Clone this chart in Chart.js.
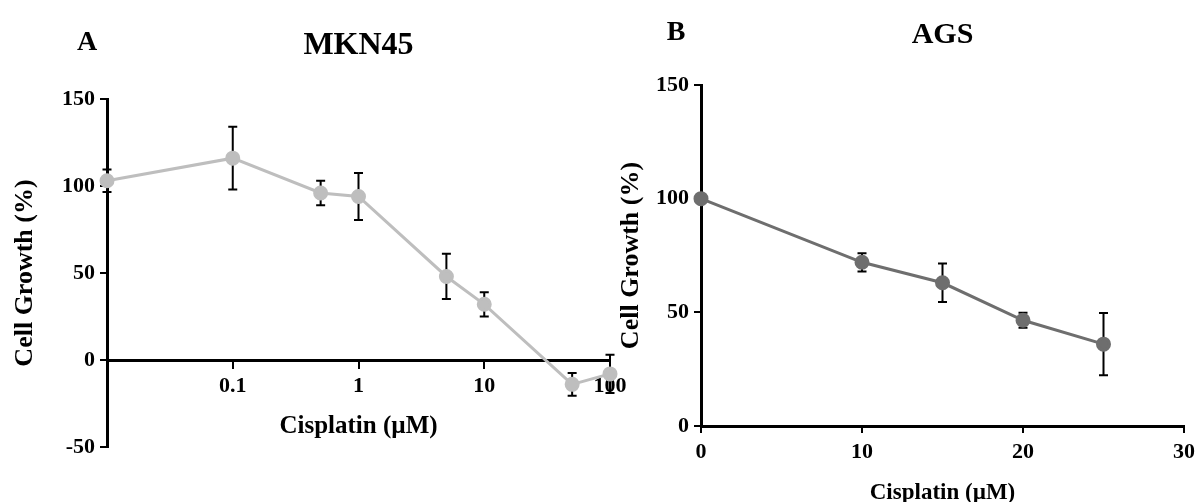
<!DOCTYPE html>
<html>
<head>
<meta charset="utf-8">
<script src="https://cdn.jsdelivr.net/npm/chart.js@4/dist/chart.umd.min.js"></script>
<style>
  html, body { margin: 0; padding: 0; background: #fff; overflow: hidden; }
  #chartA { position: absolute; left: 0; top: 0; }
  #chartB { position: absolute; left: 600px; top: 0; }
</style>
</head>
<body>
<canvas id="chartA" width="640" height="502"></canvas>
<canvas id="chartB" width="601" height="502"></canvas>
<script>
// MKN45 (log dose axis)
const mknDose = [0.01, 0.1, 0.5, 1, 5, 10, 50, 100];
const mknGrowth = [103, 116, 96, 94, 48, 32, -14, -8];
const mknError = [6.5, 18, 7, 13.5, 13, 7, 6.5, 11];
const mknTicks = [0.1, 1, 10, 100];

// AGS (linear dose axis)
const agsDose = [0, 10, 15, 20, 25];
const agsGrowth = [100, 72, 63, 46.5, 36];
const agsError = [0, 4, 8.5, 3.3, 13.7];

const SERIF = "'Liberation Serif', 'Times New Roman', serif";

// error bars drawn under the points, through the chart scales
const errorBars = {
    id: 'errorBars',
    beforeDatasetsDraw(chart, args, opts) {
        const { ctx, scales: { x, y } } = chart;
        const pts = chart.data.datasets[0].data;
        ctx.save();
        ctx.strokeStyle = '#000';
        ctx.lineWidth = 2;
        pts.forEach((p, i) => {
            const e = opts.errors[i];
            if (!e) return;
            const px = x.getPixelForValue(p.x);
            const top = y.getPixelForValue(p.y + e);
            const bot = y.getPixelForValue(p.y - e);
            ctx.beginPath();
            ctx.moveTo(px, top); ctx.lineTo(px, bot);
            ctx.moveTo(px - 4.5, top); ctx.lineTo(px + 4.5, top);
            ctx.moveTo(px - 4.5, bot); ctx.lineTo(px + 4.5, bot);
            ctx.stroke();
        });
        ctx.restore();
    }
};

// panel letter (A / B)
const panelLetter = {
    id: 'panelLetter',
    afterDraw(chart, args, opts) {
        const ctx = chart.ctx;
        ctx.save();
        ctx.font = `bold ${opts.size}px ${SERIF}`;
        ctx.fillStyle = '#000';
        ctx.textAlign = 'center';
        ctx.textBaseline = 'middle';
        ctx.fillText(opts.text, opts.x, opts.y);
        ctx.restore();
    }
};

function tickFont(size) {
    return { family: SERIF, size: size, weight: 'bold' };
}

const axisGrid = { drawOnChartArea: false, drawTicks: true, tickLength: 7, color: '#000', lineWidth: 2 };
const axisBorder = { display: true, color: '#000', width: 3 };

new Chart(document.getElementById('chartA'), {
    type: 'line',
    data: {
        datasets: [{
            data: mknDose.map((d, i) => ({ x: d, y: mknGrowth[i] })),
            borderColor: '#bebebe',
            backgroundColor: '#bebebe',
            borderWidth: 3,
            pointRadius: 6,
            pointHoverRadius: 6,
            tension: 0,
            clip: false
        }]
    },
    options: {
        responsive: false,
        animation: false,
        events: [],
        layout: { padding: { top: 0, left: 0, right: 30, bottom: 55 } },
        plugins: {
            legend: { display: false },
            tooltip: { enabled: false },
            title: {
                display: true,
                text: 'MKN45',
                fullSize: false,
                color: '#000',
                font: { family: SERIF, size: 32, weight: 'bold' },
                padding: { top: 26.8, bottom: 33.8 }
            },
            errorBars: { errors: mknError },
            panelLetter: { text: 'A', x: 87, y: 43, size: 28 }
        },
        scales: {
            x: {
                type: 'logarithmic',
                min: 0.01,
                max: 100,
                position: { y: 0 },
                afterBuildTicks: (s) => { s.ticks = mknTicks.map(v => ({ value: v })); },
                afterFit: (s) => { s.height = 55; },
                grid: axisGrid,
                border: axisBorder,
                ticks: {
                    color: '#000',
                    font: tickFont(22),
                    padding: 6,
                    maxRotation: 0,
                    autoSkip: false,
                    callback: (v) => String(v)
                },
                title: {
                    display: true,
                    text: 'Cisplatin (µM)',
                    color: '#000',
                    font: { family: SERIF, size: 25, weight: 'bold' },
                    padding: { top: 0, bottom: -27 }
                }
            },
            y: {
                min: -50,
                max: 150,
                afterFit: (s) => { s.width = 107; },
                grid: axisGrid,
                border: axisBorder,
                ticks: { stepSize: 50, color: '#000', font: tickFont(22), padding: 5 },
                title: {
                    display: true,
                    text: 'Cell Growth (%)',
                    color: '#000',
                    font: { family: SERIF, size: 26, weight: 'bold' },
                    padding: { top: 9.4, bottom: 0 }
                }
            }
        }
    },
    plugins: [errorBars, panelLetter]
});

new Chart(document.getElementById('chartB'), {
    type: 'line',
    data: {
        datasets: [{
            data: agsDose.map((d, i) => ({ x: d, y: agsGrowth[i] })),
            borderColor: '#6e6e6e',
            backgroundColor: '#6e6e6e',
            borderWidth: 3,
            pointRadius: 6,
            pointHoverRadius: 6,
            tension: 0,
            clip: false
        }]
    },
    options: {
        responsive: false,
        animation: false,
        events: [],
        layout: { padding: { top: 0, left: 0, right: 13, bottom: 0 } },
        plugins: {
            legend: { display: false },
            tooltip: { enabled: false },
            title: {
                display: true,
                text: 'AGS',
                fullSize: false,
                color: '#000',
                font: { family: SERIF, size: 30, weight: 'bold' },
                padding: { top: 17, bottom: 32 }
            },
            errorBars: { errors: agsError },
            panelLetter: { text: 'B', x: 76, y: 33, size: 28 }
        },
        scales: {
            x: {
                type: 'linear',
                min: 0,
                max: 30,
                afterFit: (s) => { s.height = 76; },
                grid: axisGrid,
                border: axisBorder,
                ticks: { stepSize: 10, color: '#000', font: tickFont(22), padding: 6, maxRotation: 0 },
                title: {
                    display: true,
                    text: 'Cisplatin (µM)',
                    color: '#000',
                    font: { family: SERIF, size: 23, weight: 'bold' },
                    padding: { top: 0, bottom: -5 }
                }
            },
            y: {
                min: 0,
                max: 150,
                afterFit: (s) => { s.width = 101; },
                grid: axisGrid,
                border: axisBorder,
                ticks: { stepSize: 50, color: '#000', font: tickFont(22), padding: 5 },
                title: {
                    display: true,
                    text: 'Cell Growth (%)',
                    color: '#000',
                    font: { family: SERIF, size: 26, weight: 'bold' },
                    padding: { top: 15.4, bottom: 0 }
                }
            }
        }
    },
    plugins: [errorBars, panelLetter]
});
</script>
</body>
</html>
